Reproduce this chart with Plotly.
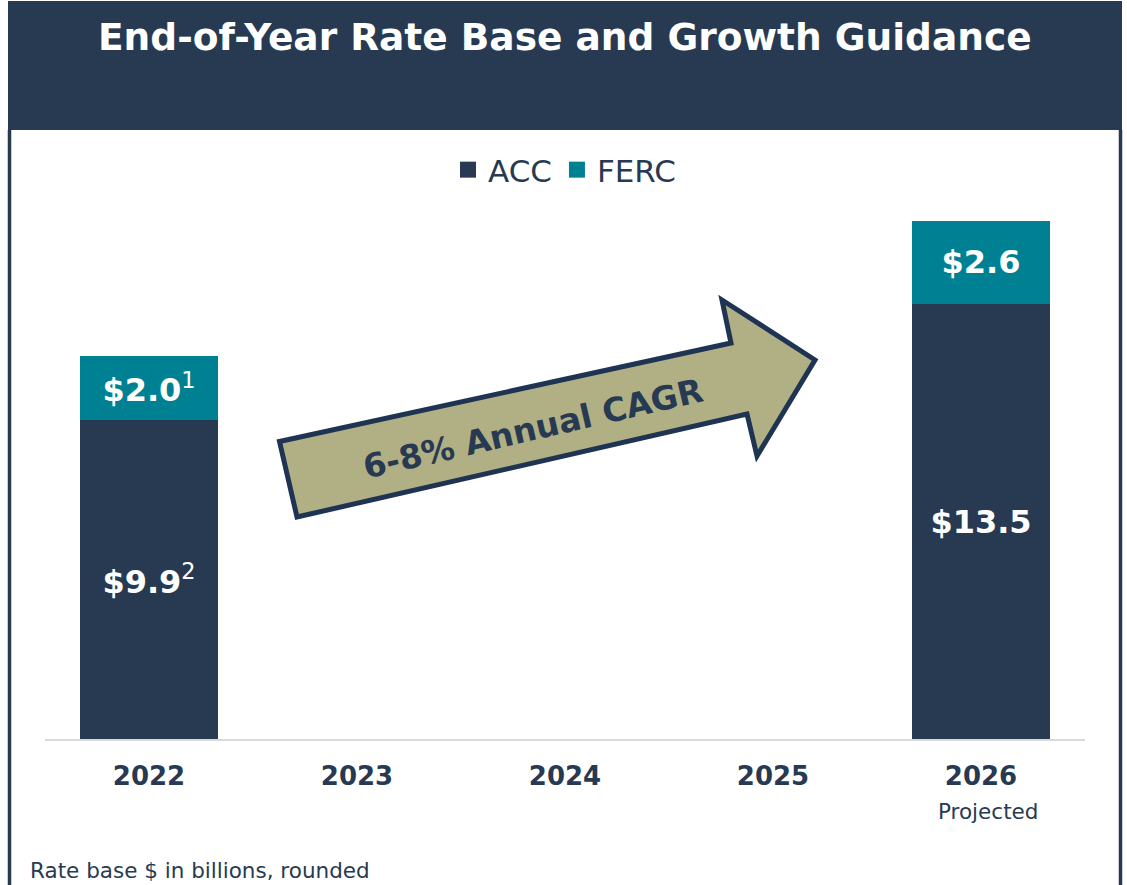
import plotly.graph_objects as go

# ---- data ----
years = ["2022", "2023", "2024", "2025", "2026"]
acc = [9.9, None, None, None, 13.5]
ferc = [2.0, None, None, None, 2.6]
acc_labels = ["<b>$9.9</b><sup>2</sup>", "", "", "", "<b>$13.5</b>"]
ferc_labels = ["<b>$2.0</b><sup>1</sup>", "", "", "", "<b>$2.6</b>"]
series_names = ["ACC", "FERC"]
title_text = "End-of-Year Rate Base and Growth Guidance"
arrow_text = "6-8% Annual CAGR"
footnote = "Rate base $ in billions, rounded"
projected_note = "Projected"
projected_year = "2026"

NAVY = "#283a52"
TEAL = "#008193"
KHAKI = "#b1b085"
ARROW_EDGE = "#1f3452"
FONT = "DejaVu Sans"

W, H = 1127, 885
L, R, T, B = 45, 1085, 200, 739
Y_TOP = 16.74


def px(x):
    return (x - L) / (R - L)


def py(y):
    return (B - y) / (B - T)


fig = go.Figure()
fig.add_trace(go.Bar(
    x=years, y=acc, name=series_names[0], marker=dict(color=NAVY, line=dict(width=0)),
    text=acc_labels, textposition="inside", insidetextanchor="middle",
    textfont=dict(family=FONT, size=32, color="white"), constraintext="none",
    showlegend=False, hoverinfo="skip"))
fig.add_trace(go.Bar(
    x=years, y=ferc, name=series_names[1], marker=dict(color=TEAL, line=dict(width=0)),
    text=ferc_labels, textposition="inside", insidetextanchor="middle",
    textfont=dict(family=FONT, size=32, color="white"), constraintext="none",
    showlegend=False, hoverinfo="skip"))
# legend entries (square swatches)
for nm, col in zip(series_names, [NAVY, TEAL]):
    fig.add_trace(go.Scatter(x=[years[0]], y=[None], mode="markers", name=nm,
                             marker=dict(symbol="square", size=16, color=col),
                             hoverinfo="skip"))

shapes = []
# title bar
shapes.append(dict(type="rect", xref="paper", yref="paper", x0=px(8), x1=px(1122),
                   y0=py(130), y1=py(1), fillcolor=NAVY, line=dict(width=0), layer="below"))
# side borders
for xb in (9.5, 1120.5):
    shapes.append(dict(type="line", xref="paper", yref="paper", x0=px(xb), x1=px(xb),
                       y0=py(130), y1=py(885), line=dict(color=NAVY, width=3.5)))
# arrow outline (decoration)
inset = [(279.5, 441.5), (731, 343), (722, 300), (815, 360), (757, 456), (747, 414), (297, 517)]
path = "M " + " L ".join(f"{px(x):.5f},{py(y):.5f}" for x, y in inset) + " Z"
shapes.append(dict(type="path", xref="paper", yref="paper", path=path,
                   fillcolor=KHAKI, line=dict(color=ARROW_EDGE, width=5)))

annotations = [
    dict(xref="paper", yref="paper", x=px(565), y=py(37), text=f"<b>{title_text}</b>",
         showarrow=False, font=dict(family=FONT, size=37.5, color="white"),
         xanchor="center", yanchor="middle"),
    dict(xref="paper", yref="paper", x=px(533), y=py(428), text=f"<b>{arrow_text}</b>",
         showarrow=False, textangle=-13, font=dict(family=FONT, size=33, color=NAVY),
         xanchor="center", yanchor="middle"),
    dict(xref="x", yref="paper", x=years.index(projected_year), y=py(811), text=projected_note,
         showarrow=False, font=dict(family=FONT, size=21.5, color=NAVY), xshift=7,
         xanchor="center", yanchor="middle"),
    dict(xref="paper", yref="paper", x=px(28), y=py(870), text=footnote,
         showarrow=False, font=dict(family=FONT, size=21.5, color=NAVY),
         xanchor="left", yanchor="middle"),
]

fig.update_layout(
    width=W, height=H, autosize=False,
    margin=dict(l=L, r=W - R, t=T, b=H - B, pad=0),
    paper_bgcolor="white", plot_bgcolor="white",
    barmode="stack", bargap=0.335,
    font=dict(family=FONT, color=NAVY),
    showlegend=True,
    legend=dict(orientation="h", x=px(565), y=py(170), xanchor="center", yanchor="middle",
                traceorder="normal",
                font=dict(family=FONT, size=31, color=NAVY), bgcolor="rgba(0,0,0,0)",
                itemclick=False, itemdoubleclick=False),
    xaxis=dict(type="category", categoryorder="array", categoryarray=years,
               range=[-0.5, len(years) - 0.5],
               tickfont=dict(family=FONT, size=26, color=NAVY, weight="bold"),
               showline=True, linecolor="#d9d9d9", linewidth=2, showgrid=False,
               ticks="", zeroline=False, ticklabelstandoff=13, fixedrange=True),
    yaxis=dict(range=[0, Y_TOP], visible=False, showgrid=False, zeroline=False, fixedrange=True),
    shapes=shapes, annotations=annotations,
)

fig.write_html("out.html", config={"displayModeBar": False},
               post_script="document.body.style.margin='0';document.body.style.overflow='hidden';")
